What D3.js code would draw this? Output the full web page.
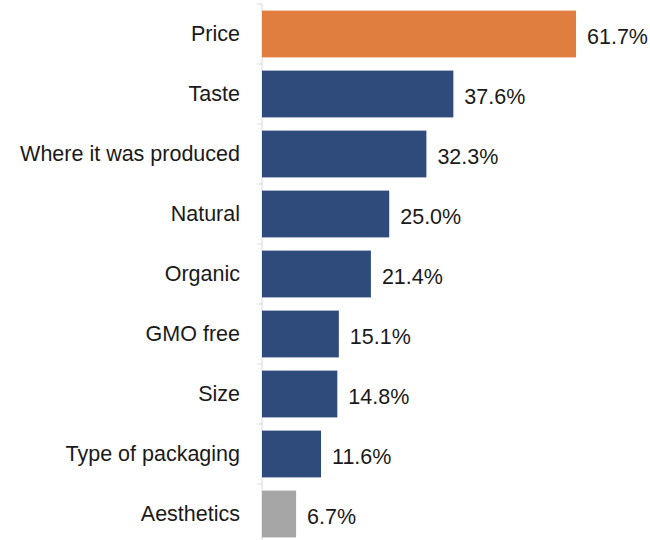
<!DOCTYPE html>
<html>
<head>
<meta charset="utf-8">
<script src="https://cdn.jsdelivr.net/npm/d3@7"></script>
<style>
  html, body { margin: 0; padding: 0; background: #fff; }
  svg { display: block; }
  text { font-family: "Liberation Sans", Arial, sans-serif; fill: #1a1a1a; }
</style>
</head>
<body>
<svg id="chart" width="650" height="540"></svg>
<script>
// Factors considered when buying, share of respondents (%)
const categories = ["Price", "Taste", "Where it was produced", "Natural", "Organic",
                    "GMO free", "Size", "Type of packaging", "Aesthetics"];
const values = [61.7, 37.6, 32.3, 25.0, 21.4, 15.1, 14.8, 11.6, 6.7];
const barColors = ["#E07E3F", "#2F4B7C", "#2F4B7C", "#2F4B7C", "#2F4B7C",
                   "#2F4B7C", "#2F4B7C", "#2F4B7C", "#A6A6A6"];

const svg = d3.select("#chart");
const x0 = 262;

const x = d3.scaleLinear().domain([0, 61.7]).range([x0, 576]);
const y = d3.scaleBand().domain(categories).range([4, 544]).paddingInner(0.22).paddingOuter(0.11);

// category axis: light rule with ticks at band boundaries
const axisG = svg.append("g");
axisG.append("line")
  .attr("x1", x0).attr("x2", x0).attr("y1", 4).attr("y2", 544)
  .attr("stroke", "#d9d9d9").attr("stroke-width", 1);
const step = y.step();
axisG.selectAll("line.tick")
  .data(d3.range(categories.length + 1))
  .join("line")
  .attr("class", "tick")
  .attr("x1", x0 - 5).attr("x2", x0)
  .attr("y1", i => 4 + i * step).attr("y2", i => 4 + i * step)
  .attr("stroke", "#d9d9d9");

// bars
svg.append("g").selectAll("rect")
  .data(categories)
  .join("rect")
  .attr("x", x0)
  .attr("y", d => y(d))
  .attr("width", (d, i) => x(values[i]) - x0)
  .attr("height", y.bandwidth())
  .attr("fill", (d, i) => barColors[i]);

// category labels
svg.append("g").selectAll("text")
  .data(categories)
  .join("text")
  .attr("x", 240)
  .attr("y", d => y(d) + y.bandwidth() / 2 - 1)
  .attr("dy", "0.36em")
  .attr("text-anchor", "end")
  .attr("font-size", 21.5)
  .text(d => d);

// value labels
svg.append("g").selectAll("text")
  .data(values)
  .join("text")
  .attr("x", d => x(d) + 11)
  .attr("y", (d, i) => y(categories[i]) + y.bandwidth() / 2 + 2)
  .attr("dy", "0.36em")
  .attr("font-size", 21.5)
  .text(d => d.toFixed(1) + "%");
</script>
</body>
</html>
